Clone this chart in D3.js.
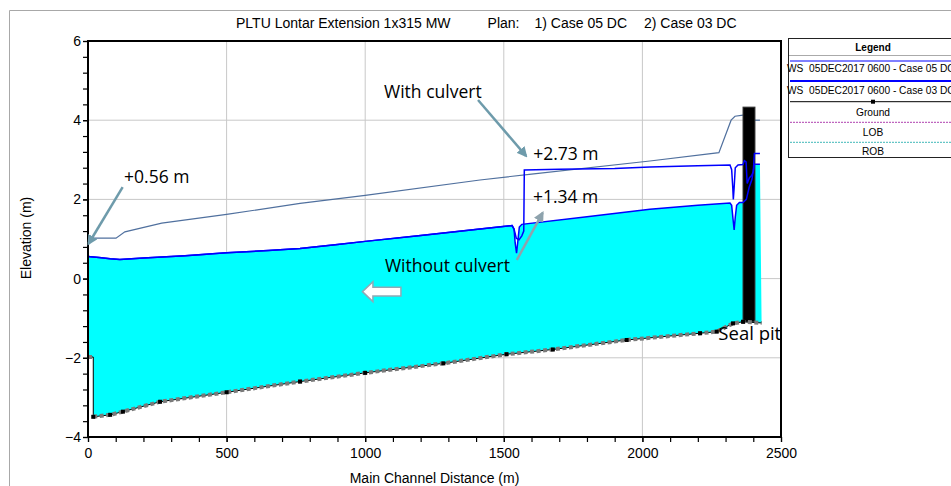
<!DOCTYPE html>
<html>
<head>
<meta charset="utf-8">
<script src="https://cdn.jsdelivr.net/npm/d3@7"></script>
<style>
  html, body { margin: 0; padding: 0; background: #fff; }
  svg { display: block; }
  text { font-family: "Liberation Sans", Arial, sans-serif; fill: #000; }
  .note { font-family: "Open Sans", "Liberation Sans", sans-serif; }
  .pre { white-space: pre; }
</style>
</head>
<body>
<svg id="chart" width="951" height="486"></svg>
<script>
// ---- axis ticks ----
const distTicks = [0, 500, 1000, 1500, 2000, 2500];
const elevTicks = [-4, -2, 0, 2, 4, 6];
const distMinorStep = 100;
const elevMinorStep = 0.4;

// ---- title / legend text ----
const titleParts = ["PLTU Lontar Extension 1x315 MW", "Plan:", "1) Case 05 DC", "2) Case 03 DC"];
const legendLabels = ["WS  05DEC2017 0600 - Case 05 DC", "WS  05DEC2017 0600 - Case 03 DC", "Ground", "LOB", "ROB"];
const notes = ["With culvert", "+2.73 m", "+1.34 m", "+0.56 m", "Without culvert", "Seal pit"];

// ---- water surface, Case 05 DC (without culvert) [distance m, elevation m] ----
const wsCase05 = [
  [0, 0.56], [40, 0.53], [80, 0.50], [115, 0.48], [200, 0.52], [350, 0.58], [500, 0.65],
  [650, 0.71], [765, 0.76], [900, 0.86], [1000, 0.94], [1200, 1.09], [1414, 1.25],
  [1530, 1.34], [1537, 1.25], [1541, 0.90], [1546, 0.64], [1550, 0.90], [1556, 1.30],
  [1565, 1.37], [1800, 1.56], [2027, 1.75], [2200, 1.85], [2316, 1.91], [2322, 1.85],
  [2327, 1.50], [2331, 1.23], [2335, 1.55], [2340, 1.85], [2350, 1.92], [2363, 1.92],
  [2375, 2.00], [2385, 2.30], [2395, 2.50], [2404, 2.89], [2424, 2.89]
];

// ---- water surface, Case 03 DC (with culvert) ----
const wsCase03 = [
  [0, 0.56], [40, 0.53], [80, 0.50], [115, 0.48], [200, 0.52], [350, 0.58], [500, 0.65],
  [650, 0.71], [765, 0.76], [900, 0.86], [1000, 0.94], [1200, 1.09], [1414, 1.25],
  [1530, 1.34], [1537, 1.25], [1545, 1.02], [1555, 0.98], [1565, 1.08], [1572, 1.20],
  [1574, 2.74], [1700, 2.76], [1900, 2.78], [2027, 2.82], [2200, 2.85], [2316, 2.87],
  [2322, 2.75], [2326, 2.30], [2328, 2.00], [2331, 2.30], [2335, 2.80], [2345, 2.87],
  [2363, 2.88], [2368, 2.98], [2374, 2.95], [2378, 2.40], [2386, 2.55], [2394, 2.60],
  [2400, 2.70], [2404, 3.16], [2424, 3.16]
];

// ---- top of bank ----
const bankUpstream = [
  [0, 1.02], [101, 1.02], [133, 1.18], [266, 1.40], [500, 1.62], [765, 1.90], [1000, 2.10],
  [1414, 2.49], [1600, 2.64], [2027, 2.97], [2276, 3.18], [2320, 4.00], [2334, 4.10], [2363, 4.13]
];
const bankDownstream = [[2406, 4.00], [2424, 4.00]];

// ---- channel bed ----
const ground = [
  [0, -1.98], [19, -1.98], [19, -3.49], [80, -3.44], [126, -3.36], [260, -3.11], [500, -2.87],
  [765, -2.60], [1000, -2.38], [1282, -2.14], [1510, -1.91], [1677, -1.79], [1943, -1.55],
  [2208, -1.38], [2268, -1.34], [2327, -1.13], [2363, -1.09], [2430, -1.12]
];

// ---- seal pit structure [start m, end m, bottom m, top m] ----
const sealPit = [2363, 2406, -1.09, 4.33];

const svg = d3.select("#chart");
const x = d3.scaleLinear().domain([0, 2500]).range([88, 781]);
const y = d3.scaleLinear().domain([-4, 6]).range([437, 41]);
const line = d3.line().x(d => x(d[0])).y(d => y(d[1]));

// outer frame
svg.append("path").attr("d", "M9.5,486V10.5H951").attr("fill", "none").attr("stroke", "#a8a8a8");

// gridlines
const grid = svg.append("g");
distTicks.filter(d => d > 0 && d < 2500).forEach(d => {
  grid.append("line").attr("x1", x(d)).attr("x2", x(d)).attr("y1", y(6)).attr("y2", y(-4))
    .attr("stroke", "#c8c8c8");
});
elevTicks.filter(d => d > -4 && d < 6).forEach(d => {
  grid.append("line").attr("x1", x(0)).attr("x2", x(2500)).attr("y1", y(d)).attr("y2", y(d))
    .attr("stroke", "#c8c8c8");
});

// water body between bed and Case 05 surface
const waterPoly = wsCase05.concat(ground.slice().reverse());
svg.append("path").attr("d", line(waterPoly) + "Z").attr("fill", "#00ffff");

// bank line
svg.append("path").attr("d", line(bankUpstream)).attr("fill", "none").attr("stroke", "#50709e").attr("stroke-width", 1.2);
svg.append("path").attr("d", line(bankDownstream)).attr("fill", "none").attr("stroke", "#50709e").attr("stroke-width", 1.2);

// seal pit
svg.append("rect")
  .attr("x", x(sealPit[0])).attr("width", x(sealPit[1]) - x(sealPit[0]))
  .attr("y", y(sealPit[3])).attr("height", y(sealPit[2]) - y(sealPit[3]))
  .attr("fill", "#000").attr("stroke", "#333").attr("stroke-width", 1);

// water surfaces
svg.append("path").attr("d", line(wsCase03)).attr("fill", "none").attr("stroke", "#0000ff").attr("stroke-width", 1.5);
svg.append("path").attr("d", line(wsCase05)).attr("fill", "none").attr("stroke", "#0000ff").attr("stroke-width", 1.5);

// channel bed: thin black line with grey station markers
svg.append("path").attr("d", line(ground)).attr("fill", "none").attr("stroke", "#000").attr("stroke-width", 1);
svg.append("path").attr("d", line(ground.slice(0, 2))).attr("fill", "none")
  .attr("stroke", "#7a7a7a").attr("stroke-width", 4).attr("stroke-dasharray", "4,2.5");
svg.append("path").attr("d", line(ground.slice(2))).attr("fill", "none")
  .attr("stroke", "#7a7a7a").attr("stroke-width", 4).attr("stroke-dasharray", "4,2.5");
svg.append("g").selectAll("rect").data(ground.slice(2, -1)).join("rect")
  .attr("x", d => x(d[0]) - 2).attr("y", d => y(d[1]) - 2).attr("width", 4).attr("height", 4).attr("fill", "#000");

// plot frame
svg.append("rect").attr("x", x(0)).attr("y", y(6)).attr("width", x(2500) - x(0)).attr("height", y(-4) - y(6))
  .attr("fill", "none").attr("stroke", "#000").attr("stroke-width", 2);

// axes
const yMinor = d3.range(-4, 6 + 1e-6, elevMinorStep);
const xMinor = d3.range(0, 2500 + 1e-6, distMinorStep);
svg.append("g").attr("transform", `translate(${x(0)},0)`)
  .call(d3.axisLeft(y).tickValues(elevTicks).tickSize(5).tickPadding(2).tickFormat(d3.format("d")));
svg.append("g").attr("transform", `translate(${x(0)},0)`)
  .call(d3.axisLeft(y).tickValues(yMinor).tickSize(5).tickFormat(""));
svg.append("g").attr("transform", `translate(0,${y(-4)})`)
  .call(d3.axisBottom(x).tickValues(distTicks).tickSize(5).tickPadding(6).tickFormat(d3.format("d")));
svg.append("g").attr("transform", `translate(0,${y(-4)})`)
  .call(d3.axisBottom(x).tickValues(xMinor).tickSize(5).tickFormat(""));
svg.selectAll(".domain").remove();
svg.selectAll(".tick line").attr("stroke", "#000").attr("stroke-width", 1.2);
svg.selectAll(".tick text").attr("font-size", 14).attr("font-family", "Liberation Sans, Arial, sans-serif");

// axis titles
svg.append("text").attr("x", (x(0) + x(2500)) / 2).attr("y", 483).attr("text-anchor", "middle")
  .attr("font-size", 14).text("Main Channel Distance (m)");
svg.append("text").attr("transform", "translate(31,238) rotate(-90)").attr("text-anchor", "middle")
  .attr("font-size", 14).text("Elevation (m)");

// title
const titleX = [236, 487.6, 534.5, 644];
titleParts.forEach((t, i) => {
  svg.append("text").attr("x", titleX[i]).attr("y", 27.5).attr("font-size", 14).text(t);
});

// legend
const lg = svg.append("g");
lg.append("rect").attr("x", 788.5).attr("y", 38.5).attr("width", 200).attr("height", 119)
  .attr("fill", "#fff").attr("stroke", "#222");
lg.append("text").attr("x", 873).attr("y", 51).attr("text-anchor", "middle")
  .attr("font-size", 10).attr("font-weight", "bold").text("Legend");
lg.append("line").attr("x1", 789).attr("x2", 951).attr("y1", 55.5).attr("y2", 55.5).attr("stroke", "#aaa");
const legendSym = [
  { y: 61, stroke: "#0000ff", w: 1.2, dash: null },
  { y: 81, stroke: "#0000ff", w: 2, dash: null },
  { y: 101.7, stroke: "#000", w: 1, dash: null },
  { y: 122.3, stroke: "#b040b0", w: 1, dash: "2,1" },
  { y: 142.3, stroke: "#40b8b8", w: 1, dash: "2,1" }
];
const legendTextY = [72.3, 94.3, 116, 135.7, 155];
legendSym.forEach((s, i) => {
  lg.append("line").attr("x1", 790).attr("x2", 951).attr("y1", s.y).attr("y2", s.y)
    .attr("stroke", s.stroke).attr("stroke-width", s.w).attr("stroke-dasharray", s.dash);
  const t = lg.append("text").attr("class", "pre").attr("y", legendTextY[i]).attr("font-size", 10.2).text(legendLabels[i]);
  if (i < 2) t.attr("x", 787); else t.attr("x", 873).attr("text-anchor", "middle");
});
lg.append("rect").attr("x", 871).attr("y", 99.7).attr("width", 4).attr("height", 4).attr("fill", "#000");

// annotations
const defs = svg.append("defs");
function head(id, color) {
  defs.append("marker").attr("id", id).attr("viewBox", "0 0 10 10").attr("refX", 8).attr("refY", 5)
    .attr("markerWidth", 4.2).attr("markerHeight", 4.2).attr("orient", "auto")
    .append("path").attr("d", "M0,0L10,5L0,10z").attr("fill", color);
}
head("hBlue", "#6e9bab");
head("hGrey", "#8ea3ad");
function arrow(from, to, color, id) {
  svg.append("line").attr("x1", x(from[0])).attr("y1", y(from[1])).attr("x2", x(to[0])).attr("y2", y(to[1]))
    .attr("stroke", color).attr("stroke-width", 2.5).attr("marker-end", `url(#${id})`);
}
arrow([125, 2.31], [2, 0.88], "#6e9bab", "hBlue");
arrow([1407, 4.51], [1580, 3.10], "#6e9bab", "hBlue");
arrow([1547, 0.47], [1640, 1.66], "#8ea3ad", "hGrey");

const notePos = [[1068, 4.55], [1606, 2.99], [1605, 1.90], [130, 2.41], [1071, 0.17], [2274, -1.55]];
notes.forEach((t, i) => {
  svg.append("text").attr("class", "note").attr("x", x(notePos[i][0])).attr("y", y(notePos[i][1]))
    .attr("font-size", i === 5 ? 18.5 : 17.5).text(t);
});

// flow direction block arrow
const fa = [x(990), y(-0.33)];
svg.append("path")
  .attr("d", `M${fa[0]},${fa[1]} l10.5,-10 v5.6 h28 v8.8 h-28 v5.6 z`)
  .attr("fill", "#fff").attr("stroke", "#8fa9b5").attr("stroke-width", 1.5);
</script>
</body>
</html>
